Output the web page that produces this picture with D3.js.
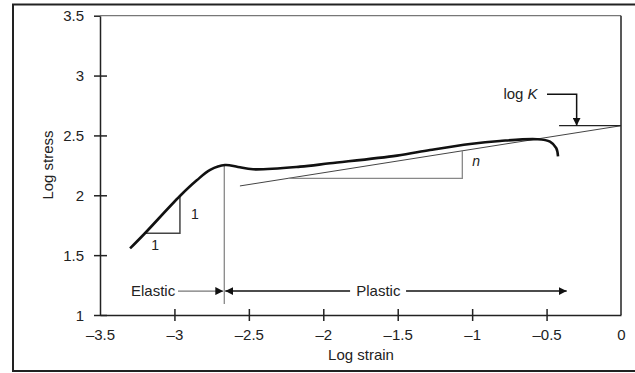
<!DOCTYPE html>
<html>
<head>
<meta charset="utf-8">
<script src="https://cdn.jsdelivr.net/npm/d3@7"></script>
<style>
  body { margin: 0; background: #fff; }
  svg text { font-family: "Liberation Sans", Arial, sans-serif; fill: #222; }
</style>
</head>
<body>
<svg id="chart" width="635" height="373"></svg>
<script>
// ---- data ----
const xTicks = [-3.5, -3, -2.5, -2, -1.5, -1, -0.5, 0];
const yTicks = [1, 1.5, 2, 2.5, 3, 3.5];
const xTickLabels = ["\u20133.5", "\u20133", "\u20132.5", "\u20132", "\u20131.5", "\u20131", "\u20130.5", "0"];
const yTickLabels = ["1", "1.5", "2", "2.5", "3", "3.5"];
// stress-strain curve (log strain, log stress)
const curveStrain = [-3.298, -3.198, -2.963, -2.850, -2.760, -2.660, -2.573, -2.472, -2.156, -1.955, -1.505, -1.283, -1.014, -0.813, -0.564, -0.477, -0.435, -0.423];
const curveStress = [1.556, 1.683, 1.994, 2.125, 2.212, 2.253, 2.236, 2.217, 2.239, 2.267, 2.331, 2.378, 2.429, 2.454, 2.468, 2.448, 2.393, 2.325];
// power-law fit line
const fitStrain = [-2.56, 0];
const fitStress = [2.078, 2.581];
const logK = 2.581;
// slope triangles
const elasticTri = [[-3.198, 1.683], [-2.963, 1.683], [-2.963, 1.994]];
const nTriX = -1.066;
const nTriY = 2.142;
// elastic / plastic boundary
const boundaryX = -2.665;

const svg = d3.select("#chart");
const x = d3.scaleLinear().domain([-3.5, 0]).range([100, 621]);
const y = d3.scaleLinear().domain([1, 3.5]).range([315, 15.7]);

// outer frame
svg.append("rect").attr("x", 13).attr("y", 4.5).attr("width", 640).attr("height", 366.5)
  .attr("fill", "none").attr("stroke", "#222").attr("stroke-width", 2);

// markers
const defs = svg.append("defs");
function marker(id, color) {
  defs.append("marker").attr("id", id).attr("viewBox", "0 0 10 10")
    .attr("refX", 10).attr("refY", 5).attr("markerWidth", 8).attr("markerHeight", 8)
    .attr("markerUnits", "userSpaceOnUse").attr("orient", "auto")
    .append("path").attr("d", "M0,0 L10,5 L0,10 Z").attr("fill", color);
}
marker("arrBlack", "#111");

// plot box top and right
svg.append("line").attr("x1", x(-3.5)).attr("x2", x(0)).attr("y1", y(3.5)).attr("y2", y(3.5))
  .attr("stroke", "#777").attr("stroke-width", 1.2);
svg.append("line").attr("x1", x(0)).attr("x2", x(0)).attr("y1", y(3.5)).attr("y2", y(1))
  .attr("stroke", "#222").attr("stroke-width", 1.5);

// axes
const xAxis = d3.axisBottom(x).tickValues(xTicks).tickSizeInner(6).tickSizeOuter(0)
  .tickFormat((d, i) => xTickLabels[i]).tickPadding(8);
const gx = svg.append("g").attr("transform", `translate(0,${y(1)})`).call(xAxis);
gx.selectAll(".tick line").attr("y1", -6).attr("y2", 6);
gx.selectAll(".tick line").filter(d => d === -3.5 || d === 0).remove();
const yAxis = d3.axisLeft(y).tickValues(yTicks).tickSizeInner(6).tickSizeOuter(0)
  .tickFormat((d, i) => yTickLabels[i]).tickPadding(10);
const gy = svg.append("g").attr("transform", `translate(${x(-3.5)},0)`).call(yAxis);
gy.selectAll(".tick line").attr("x1", -6).attr("x2", 7);
gy.selectAll(".tick line").filter(d => d === 3.5).attr("x2", 0);
[gx, gy].forEach(g => {
  g.select(".domain").attr("stroke", "#222").attr("stroke-width", 1.5);
  g.selectAll(".tick line").attr("stroke", "#222").attr("stroke-width", 1.5);
  g.selectAll(".tick text").attr("font-size", 15).attr("fill", "#222")
    .attr("font-family", "'Liberation Sans', Arial, sans-serif");
});
gx.selectAll(".tick text").attr("dy", "0.71em");
gy.selectAll(".tick text").attr("dy", "0.34em");

// axis titles
svg.append("text").attr("x", 361).attr("y", 360).attr("text-anchor", "middle")
  .attr("font-size", 15).text("Log strain");
svg.append("text").attr("transform", "translate(53,165) rotate(-90)").attr("text-anchor", "middle")
  .attr("font-size", 15).text("Log stress");

// elastic/plastic boundary line
svg.append("line").attr("x1", x(boundaryX)).attr("x2", x(boundaryX))
  .attr("y1", y(2.253)).attr("y2", y(1.092)).attr("stroke", "#888").attr("stroke-width", 1.3);

// fit line
const line = d3.line().x(d => x(d[0])).y(d => y(d[1]));
const fitPts = fitStrain.map((s, i) => [s, fitStress[i]]);
svg.append("path").attr("d", line(fitPts)).attr("fill", "none").attr("stroke", "#444").attr("stroke-width", 1);

// n triangle
const slope = (fitStress[1] - fitStress[0]) / (fitStrain[1] - fitStrain[0]);
const fitAt = s => fitStress[0] + slope * (s - fitStrain[0]);
const nStartX = fitStrain[0] + (nTriY - fitStress[0]) / slope;
svg.append("path").attr("d", line([[nStartX, nTriY], [nTriX, nTriY], [nTriX, fitAt(nTriX)]]))
  .attr("fill", "none").attr("stroke", "#888").attr("stroke-width", 1.3);
svg.append("text").attr("x", x(nTriX) + 10).attr("y", y(nTriY) - 12)
  .attr("font-size", 14).attr("font-style", "italic").text("n");

// log K marker
svg.append("line").attr("x1", x(-0.416)).attr("x2", x(0)).attr("y1", y(logK)).attr("y2", y(logK))
  .attr("stroke", "#222").attr("stroke-width", 1.2);
svg.append("path").attr("d", line([[-0.497, 2.844], [-0.298, 2.844], [-0.298, logK]]))
  .attr("fill", "none").attr("stroke", "#111").attr("stroke-width", 1.5).attr("marker-end", "url(#arrBlack)");
const lk = svg.append("text").attr("x", x(-0.56)).attr("y", y(2.844) + 5).attr("text-anchor", "end")
  .attr("font-size", 15);
lk.append("tspan").text("log ");
lk.append("tspan").attr("font-style", "italic").text("K");

// elastic triangle
svg.append("path").attr("d", line(elasticTri))
  .attr("fill", "none").attr("stroke", "#444").attr("stroke-width", 1.5);
svg.append("text").attr("x", x(-3.13)).attr("y", y(1.683) + 17).attr("text-anchor", "middle")
  .attr("font-size", 14).text("1");
svg.append("text").attr("x", x(-2.963) + 15).attr("y", y(1.84) + 5).attr("text-anchor", "middle")
  .attr("font-size", 14).text("1");

// main curve
const curvePts = curveStrain.map((s, i) => [s, curveStress[i]]);
svg.append("path").attr("d", d3.line().x(d => x(d[0])).y(d => y(d[1])).curve(d3.curveCatmullRom.alpha(0.5))(curvePts))
  .attr("fill", "none").attr("stroke", "#111").attr("stroke-width", 2.6);

// Elastic / Plastic arrows
const arrowY = 1.2;
svg.append("text").attr("x", x(-2.995)).attr("y", y(arrowY) + 5).attr("text-anchor", "end")
  .attr("font-size", 15).text("Elastic");
svg.append("line").attr("x1", x(-2.976)).attr("x2", x(boundaryX) - 1).attr("y1", y(arrowY)).attr("y2", y(arrowY))
  .attr("stroke", "#777").attr("stroke-width", 1.2).attr("marker-end", "url(#arrBlack)");
svg.append("line").attr("x1", x(-1.82)).attr("x2", x(boundaryX) + 1).attr("y1", y(arrowY)).attr("y2", y(arrowY))
  .attr("stroke", "#111").attr("stroke-width", 1.5).attr("marker-end", "url(#arrBlack)");
svg.append("text").attr("x", x(-1.63)).attr("y", y(arrowY) + 5).attr("text-anchor", "middle")
  .attr("font-size", 15).text("Plastic");
svg.append("line").attr("x1", x(-1.444)).attr("x2", x(-0.365)).attr("y1", y(arrowY)).attr("y2", y(arrowY))
  .attr("stroke", "#111").attr("stroke-width", 1.5).attr("marker-end", "url(#arrBlack)");
</script>
</body>
</html>
